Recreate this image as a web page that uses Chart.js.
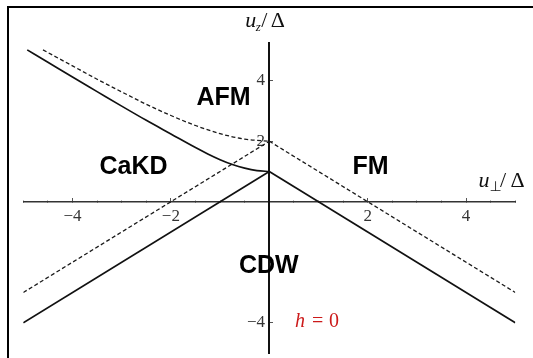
<!DOCTYPE html>
<html><head><meta charset="utf-8">
<script src="https://cdn.jsdelivr.net/npm/chart.js@4.4.1/dist/chart.umd.min.js"></script>
<style>html,body{margin:0;padding:0;background:#fff}#wrap{width:533px;height:358px}</style>
</head><body><div id="wrap"><canvas id="c" width="533" height="358"></canvas></div>
<script>
// ---- data ----
const solidCurveX = [-4.92, -4.5, -4, -3.5, -3, -2.5, -2, -1.5, -1.25, -1, -0.75, -0.5, -0.25, 0];
const solidCurveY = [5.02, 4.61, 4.12, 3.64, 3.16, 2.69, 2.24, 1.79, 1.58, 1.39, 1.23, 1.11, 1.03, 1.0];
const dashedCurveX = [-4.6, -4, -3.5, -3, -2.5, -2, -1.5, -1, -0.5, 0];
const dashedCurveY = [5.02, 4.49, 4.05, 3.63, 3.22, 2.85, 2.52, 2.25, 2.07, 2.0];
const solidLeftX = [-5, 0],  solidLeftY = [-4, 1];
const solidRightX = [0, 5],  solidRightY = [1, -4];
const dashedLeftX = [-5, 0], dashedLeftY = [-3, 2];
const dashedRightX = [0, 5], dashedRightY = [2, -3];
const xMajorTicks = [-4, -2, 2, 4];
const xTickLabels = ['\u22124', '\u22122', '2', '4'];
const yMajorTicks = [-4, -2, 2, 4];
const yTickLabels = ['\u22124 ', '', '2 ', '4 '];
const regionNames = ['AFM', 'CaKD', 'FM', 'CDW'];
const regionX = [-0.93, -2.76, 2.06, -0.01];
const regionY = [3.20, 0.92, 0.92, -2.35];

const pts = (xs, ys) => xs.map((x, i) => ({x: x, y: ys[i]}));
const noPad = s => { s.paddingLeft = 0; s.paddingRight = 0; s.paddingTop = 0; s.paddingBottom = 0; };

const solidStyle = {borderColor: '#111', borderWidth: 1.7, showLine: true, pointRadius: 0, fill: false};
const dashStyle = {borderColor: '#1a1a1a', borderWidth: 1.3, borderDash: [4, 2.5], showLine: true, pointRadius: 0, fill: false};

function drawRuns(ctx, x, y, runs) {
  ctx.textAlign = 'left';
  ctx.textBaseline = 'alphabetic';
  runs.forEach(r => {
    ctx.font = r.font;
    ctx.fillStyle = r.color || '#111';
    ctx.fillText(r.t, x + r.dx, y + (r.dy || 0));
  });
}

const overlay = {
  id: 'overlay',
  beforeDraw(chart) {
    const ctx = chart.ctx;
    ctx.save();
    ctx.fillStyle = '#fff';
    ctx.fillRect(0, 0, chart.width, chart.height);
    ctx.restore();
  },
  afterDraw(chart) {
    const ctx = chart.ctx, sx = chart.scales.x, sy = chart.scales.y;
    ctx.save();
    // frame
    ctx.strokeStyle = '#000';
    ctx.lineWidth = 2;
    ctx.beginPath();
    ctx.moveTo(533, 7); ctx.lineTo(8, 7); ctx.lineTo(8, 358);
    ctx.stroke();
    // region labels
    ctx.font = 'bold 25px "Liberation Sans", Arial, sans-serif';
    ctx.fillStyle = '#000';
    ctx.textAlign = 'center';
    ctx.textBaseline = 'alphabetic';
    regionNames.forEach((n, i) => ctx.fillText(n, sx.getPixelForValue(regionX[i]), sy.getPixelForValue(regionY[i])));
    // axis titles
    const it = 'italic 22px "Liberation Serif", serif', up = '22px "Liberation Serif", serif';
    drawRuns(ctx, sx.getPixelForValue(-0.49), sy.getPixelForValue(5.785), [
      {t: 'u', font: it, dx: 0},
      {t: 'z', font: 'italic 13px "Liberation Serif", serif', dx: 10.5, dy: 4},
      {t: '/', font: up, dx: 16},
      {t: '\u0394', font: up, dx: 25.5}
    ]);
    drawRuns(ctx, sx.getPixelForValue(4.25), sy.getPixelForValue(0.5), [
      {t: 'u', font: it, dx: 0},
      {t: '\u22a5', font: '14px "DejaVu Sans", serif', dx: 11, dy: 4},
      {t: '/', font: up, dx: 21.5},
      {t: '\u0394', font: up, dx: 32}
    ]);
    // h = 0
    const red = '#cc1a1a';
    drawRuns(ctx, sx.getPixelForValue(0.52), sy.getPixelForValue(-4.15), [
      {t: 'h', font: 'italic 20px "Liberation Serif", serif', dx: 0, color: red},
      {t: '=', font: '20px "Liberation Serif", serif', dx: 17, color: red},
      {t: '0', font: '20px "Liberation Serif", serif', dx: 34, color: red}
    ]);
    ctx.restore();
  }
};

new Chart(document.getElementById('c').getContext('2d'), {
  type: 'scatter',
  data: {
    datasets: [
      Object.assign({data: pts(solidCurveX, solidCurveY), cubicInterpolationMode: 'monotone'}, solidStyle),
      Object.assign({data: pts(solidLeftX, solidLeftY)}, solidStyle),
      Object.assign({data: pts(solidRightX, solidRightY)}, solidStyle),
      Object.assign({data: pts(dashedCurveX, dashedCurveY), cubicInterpolationMode: 'monotone'}, dashStyle),
      Object.assign({data: pts(dashedLeftX, dashedLeftY)}, dashStyle),
      Object.assign({data: pts(dashedRightX, dashedRightY)}, dashStyle)
    ]
  },
  options: {
    responsive: false,
    animation: false,
    events: [],
    layout: {padding: {left: 23.3, right: 17.7, top: 42.9, bottom: 5}},
    plugins: {legend: {display: false}, tooltip: {enabled: false}},
    scales: {
      x: {
        type: 'linear', min: -5, max: 5, position: {y: 0},
        grid: {drawOnChartArea: false, tickLength: -2, tickColor: '#555', tickWidth: 1},
        border: {display: true, color: '#333', width: 1.6},
        ticks: {display: false, stepSize: 0.5, includeBounds: false},
        afterFit: noPad
      },
      xMajor: {
        type: 'linear', axis: 'x', min: -5, max: 5, position: {y: 0},
        grid: {drawOnChartArea: false, tickLength: -4, tickColor: '#555', tickWidth: 1},
        border: {display: false},
        afterBuildTicks: s => { s.ticks = xMajorTicks.map(v => ({value: v})); },
        ticks: {
          padding: 9, color: '#333', maxRotation: 0,
          font: {family: '"Liberation Serif", serif', size: 17},
          callback: v => { const i = xMajorTicks.indexOf(v); return i < 0 ? '' : xTickLabels[i]; }
        },
        afterFit: noPad
      },
      y: {
        type: 'linear', min: -5, max: 5.25, position: {x: 0},
        grid: {drawOnChartArea: false, tickLength: -2, tickColor: '#555', tickWidth: 1},
        border: {display: true, color: '#111', width: 2},
        ticks: {display: false, stepSize: 0.5, includeBounds: false},
        afterFit: noPad
      },
      yMajor: {
        type: 'linear', axis: 'y', min: -5, max: 5.25, position: {x: 0},
        grid: {drawOnChartArea: false, tickLength: -4, tickColor: '#555', tickWidth: 1},
        border: {display: false},
        afterBuildTicks: s => { s.ticks = yMajorTicks.map(v => ({value: v})); },
        ticks: {
          padding: 3, color: '#333',
          font: {family: '"Liberation Serif", serif', size: 17},
          callback: v => { const i = yMajorTicks.indexOf(v); return i < 0 ? '' : yTickLabels[i]; }
        },
        afterFit: noPad
      }
    }
  },
  plugins: [overlay]
});
</script>
</body></html>
